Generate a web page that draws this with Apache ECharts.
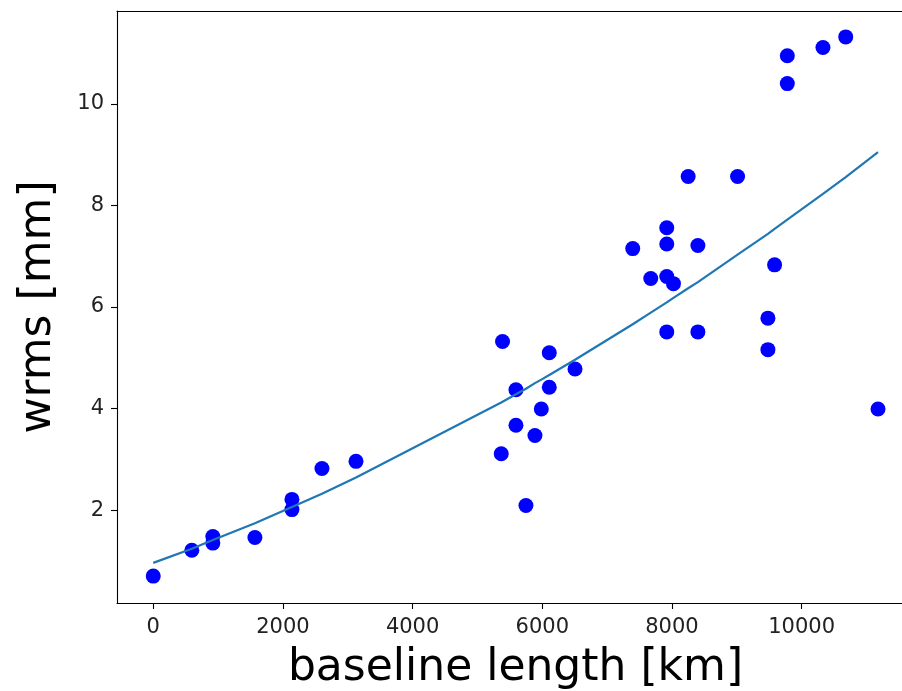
<!DOCTYPE html>
<html>
<head>
<meta charset="utf-8">
<script src="https://cdn.jsdelivr.net/npm/echarts@6/dist/echarts.min.js"></script>
<style>
html,body{margin:0;padding:0;background:#fff;overflow:hidden;}
#chart{width:902px;height:691px;}
</style>
</head>
<body>
<div id="chart"></div>
<script>
// Observed points: baseline length [km] and wrms [mm]
var baselineKm = [0,595,919,919,1568,2139,2139,2602,3127,5367,5387,5594,5594,5748,5887,5985,6108,6108,6505,7395,7673,7920,7920,7920,7920,8023,8250,8400,8400,9012,9480,9480,9583,9779,9779,10329,10680,11178];
var wrmsMm     = [0.70,1.21,1.35,1.48,1.46,2.01,2.21,2.82,2.96,3.11,5.32,3.67,4.37,2.09,3.47,3.99,4.42,5.10,4.78,7.15,6.56,5.51,6.60,7.24,7.56,6.46,8.57,5.51,7.21,8.57,5.16,5.78,6.83,10.40,10.95,11.11,11.32,3.99];

// Fitted curve
var fitX = [0,595,919,1568,2139,2602,3127,5367,5594,5748,5887,5985,6108,6505,7395,7673,7920,8023,8250,8400,9012,9480,9583,9779,10329,10680,11178];
var fitY = [0.96,1.24,1.41,1.74,2.06,2.32,2.64,4.12,4.28,4.39,4.50,4.57,4.66,4.96,5.66,5.89,6.09,6.18,6.37,6.49,7.03,7.44,7.54,7.72,8.23,8.56,9.05];

// Tick labels
var xTicks = [0,2000,4000,6000,8000,10000];
var yTicks = [2,4,6,8,10];

var xLabel = 'baseline length [km]';
var yLabel = 'wrms [mm]';

var scatterData = baselineKm.map(function(x,i){return [x, wrmsMm[i]];});
var lineData = fitX.map(function(x,i){return [x, fitY[i]];});

var chart = echarts.init(document.getElementById('chart'), null, {renderer:'canvas'});
var font = 'DejaVu Sans';
var X_MIN = -559, X_MAX = 11733;
chart.setOption({
  animation:false,
  backgroundColor:'#ffffff',
  grid:{left:117, top:11, width:797, height:592, outerBoundsMode:'none', containLabel:false, show:false},
  xAxis:[{
    type:'value', min:X_MIN, max:X_MAX,
    name:xLabel, nameLocation:'middle', nameGap:44,
    nameTextStyle:{fontFamily:font, fontSize:44, color:'#000'},
    axisLine:{show:true, onZero:false, lineStyle:{color:'#000', width:1.1}},
    axisTick:{show:true, length:6, lineStyle:{color:'#000', width:1.1}, customValues:xTicks},
    axisLabel:{fontFamily:font, fontSize:21, color:'#222', margin:14, customValues:xTicks,
               formatter:function(v){return String(v);}},
    splitLine:{show:false}
  },{
    type:'value', position:'top', min:X_MIN, max:X_MAX,
    axisLine:{show:true, onZero:false, lineStyle:{color:'#000', width:1.1}},
    axisTick:{show:false}, axisLabel:{show:false}, splitLine:{show:false}
  }],
  yAxis:{
    type:'value', min:0.17, max:11.83,
    name:yLabel, nameLocation:'middle', nameGap:56, nameRotate:90,
    nameTextStyle:{fontFamily:font, fontSize:44, color:'#000'},
    axisLine:{show:true, onZero:false, lineStyle:{color:'#000', width:1.1}},
    axisTick:{show:true, length:6, lineStyle:{color:'#000', width:1.1}, customValues:yTicks},
    axisLabel:{fontFamily:font, fontSize:21, color:'#222', margin:13, customValues:yTicks,
               formatter:function(v){return String(v);}},
    splitLine:{show:false}
  },
  series:[
    {type:'scatter', data:scatterData, symbol:'circle', symbolSize:15,
     itemStyle:{color:'#0000ff', opacity:1}, z:2},
    {type:'line', data:lineData, showSymbol:false, symbol:'none',
     lineStyle:{color:'#1f77b4', width:2.2}, z:3}
  ]
});
</script>
</body>
</html>
